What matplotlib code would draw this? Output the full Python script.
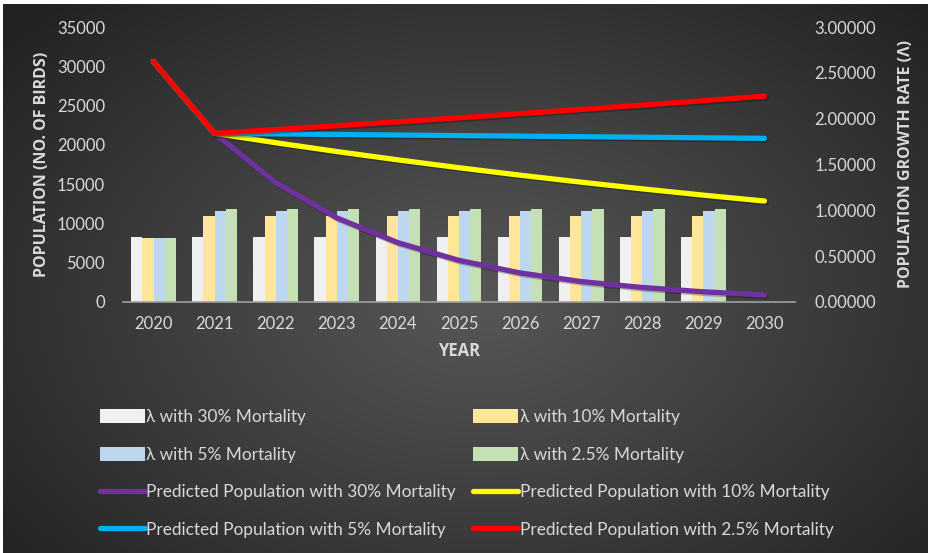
import numpy as np
import matplotlib
matplotlib.use("Agg")
import matplotlib.pyplot as plt
import matplotlib.patheffects as pe
from matplotlib.patches import Patch
from matplotlib.lines import Line2D

# ---------------- data ----------------
years = ["2020", "2021", "2022", "2023", "2024", "2025", "2026", "2027", "2028", "2029", "2030"]
bar_years = years[:10]

lam30 = [0.709, 0.709, 0.709, 0.709, 0.709, 0.709, 0.709, 0.709, 0.709, 0.709]
lam10 = [0.700, 0.941, 0.941, 0.941, 0.941, 0.941, 0.941, 0.941, 0.941, 0.941]
lam5 = [0.700, 0.996, 0.996, 0.996, 0.996, 0.996, 0.996, 0.996, 0.996, 0.996]
lam25 = [0.700, 1.017, 1.017, 1.017, 1.017, 1.017, 1.017, 1.017, 1.017, 1.017]

pop30 = [30600, 21460, 15200, 10700, 7550, 5300, 3700, 2600, 1850, 1300, 900]
pop10 = [30600, 21460, 20270, 19150, 18090, 17090, 16140, 15250, 14400, 13600, 12850]
pop5 = [30600, 21460, 21390, 21320, 21250, 21180, 21110, 21040, 20970, 20900, 20830]
pop25 = [30600, 21460, 21940, 22430, 22930, 23440, 23970, 24510, 25060, 25620, 26200]

left_ticks = [0, 5000, 10000, 15000, 20000, 25000, 30000, 35000]
right_ticks = [0.0, 0.5, 1.0, 1.5, 2.0, 2.5, 3.0]

bar_labels = ["λ with 30% Mortality", "λ with 10% Mortality", "λ with 5% Mortality", "λ with 2.5% Mortality"]
line_labels = ["Predicted Population with 30% Mortality", "Predicted Population with 10% Mortality",
               "Predicted Population with 5% Mortality", "Predicted Population with 2.5% Mortality"]

bar_colors = ["#F0F0F0", "#FFE699", "#BDD7EE", "#C5E0B4"]
line_colors = ["#7030A0", "#FFFF00", "#00B0F0", "#FF0000"]

plt.rcParams['font.family'] = ['Lato', 'DejaVu Sans']
txt = "#D9D9D9"
bold_family = ['Open Sans', 'DejaVu Sans']

W, H = 929, 553
fig = plt.figure(figsize=(W / 100, H / 100), dpi=100)

# background radial gradient
bg = fig.add_axes([0, 0, 1, 1])
yy, xx = np.mgrid[0:H, 0:W]
cx, cy = 480, 300
r = np.sqrt(((xx - cx) / 620.0) ** 2 + ((yy - cy) / 420.0) ** 2)
r = np.clip(r, 0, 1)
c0, c1 = 0x56 / 255, 0x22 / 255
val = c0 + (c1 - c0) * r ** 1.1
img = np.dstack([val, val, val])
img[:4, :, :] = 1.0
img[:, :3, :] = 1.0
bg.imshow(img, aspect='auto', extent=[0, W, H, 0], interpolation='bilinear')
bg.set_axis_off()

# main axes
ax_rect = [123 / W, 1 - 302 / H, (795 - 123) / W, (302 - 27) / H]
axr = fig.add_axes(ax_rect)   # lambda bars (right axis)
axl = axr.twinx()             # population lines (left axis)
axr.patch.set_visible(False)
axl.patch.set_visible(False)

x = np.arange(len(years))
xb = np.arange(len(bar_years))
bw = 0.183
for i, (vals, col) in enumerate(zip([lam30, lam10, lam5, lam25], bar_colors)):
    axr.bar(xb + (i - 1.5) * bw, vals, width=bw, color=col, zorder=2)

shadow = [pe.SimpleLineShadow(offset=(1.2, -1.2), shadow_color='black', alpha=0.25), pe.Normal()]
for vals, col in zip([pop30, pop10, pop5, pop25], line_colors):
    axl.plot(x, vals, color=col, lw=3.8, solid_capstyle='round', solid_joinstyle='round',
             path_effects=shadow, zorder=3)

axr.set_ylim(0, 3.0)
axl.set_ylim(0, 35000)
axr.set_xlim(-0.5, 10.5)

axr.yaxis.tick_right()
axr.yaxis.set_label_position('right')
axl.yaxis.tick_left()
axl.yaxis.set_label_position('left')

axr.set_yticks(right_ticks)
axr.set_yticklabels([f"{v:.5f}" for v in right_ticks])
axl.set_yticks(left_ticks)
axl.set_yticklabels([str(v) for v in left_ticks])
axr.set_xticks(x)
axr.set_xticklabels(years)

for a in (axr, axl):
    for s in a.spines.values():
        s.set_visible(False)
    a.tick_params(length=0, colors=txt, labelsize=12)
axr.spines['bottom'].set_visible(True)
axr.spines['bottom'].set_color('#A0A0A0')
axr.spines['bottom'].set_linewidth(1.2)
axr.tick_params(axis='x', pad=10)
axr.tick_params(axis='y', pad=14)
axl.tick_params(axis='y', pad=13)

axl.set_ylabel("POPULATION (NO. OF BIRDS)", color=txt, fontsize=11.5, fontweight='bold',
               family=bold_family, labelpad=5)
axr.set_ylabel("POPULATION GROWTH RATE (Λ)", color=txt, fontsize=11.5, fontweight='bold',
               family=bold_family, labelpad=16)
axr.set_xlabel("YEAR", color=txt, fontsize=12, fontweight='bold', family=bold_family, labelpad=7)

# legend
handles = []
for col in bar_colors:
    handles.append(Patch(facecolor=col, edgecolor='none'))
for col in line_colors:
    handles.append(Line2D([0], [0], color=col, lw=3.8, solid_capstyle='round'))
labels = bar_labels + line_labels
order = [0, 2, 4, 6, 1, 3, 5, 7]
leg = fig.legend([handles[i] for i in order], [labels[i] for i in order],
                 loc='upper left', bbox_to_anchor=(100 / W, 1 - 409 / H), ncol=2,
                 frameon=False, fontsize=12.4, labelcolor=txt, handlelength=2.6,
                 handleheight=0.9, handletextpad=0.1, columnspacing=1.0,
                 labelspacing=1.25, borderaxespad=0, borderpad=0)

fig.savefig("out.png", dpi=100)
